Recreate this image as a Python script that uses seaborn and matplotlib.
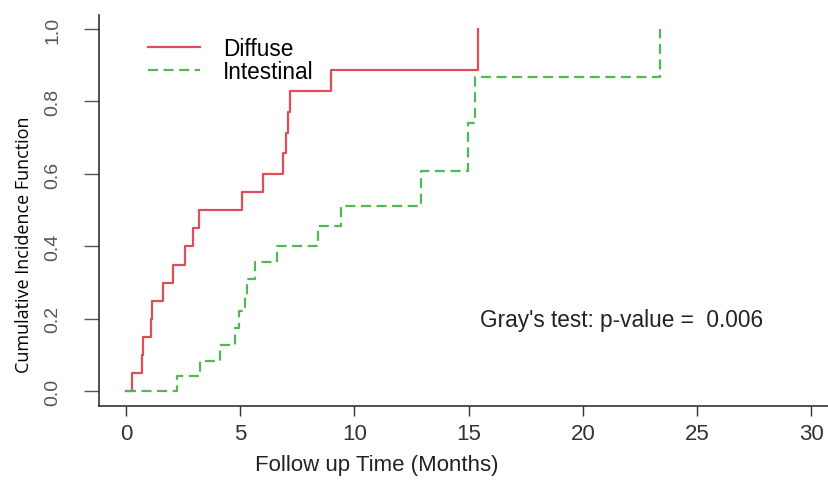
import matplotlib
matplotlib.use("Agg")
import matplotlib.pyplot as plt
import seaborn as sns
import pandas as pd
import numpy as np

# Step points (months, CIF)
diffuse_time = [0, 0.28, 0.69, 0.76, 1.08, 1.15, 1.6, 2.07, 2.58, 2.92, 3.19,
                5.1, 6.01, 6.88, 7.0, 7.08, 7.2, 8.97, 15.42]
diffuse_cif = [0, 0.05, 0.10, 0.15, 0.20, 0.25, 0.30, 0.35, 0.40, 0.45, 0.50,
               0.55, 0.60, 0.657, 0.714, 0.771, 0.829, 0.886, 1.0]

intestinal_time = [0, 2.22, 3.22, 4.11, 4.77, 4.96, 5.21, 5.31, 5.65, 6.59,
                   8.39, 9.4, 12.9, 14.98, 15.27, 23.37]
intestinal_cif = [0, 0.043, 0.085, 0.128, 0.175, 0.222, 0.264, 0.31, 0.358,
                  0.402, 0.457, 0.512, 0.609, 0.742, 0.868, 1.0]

groups = ['Diffuse', 'Intestinal']
x_ticks = [0, 5, 10, 15, 20, 25, 30]
y_ticks = [0.0, 0.2, 0.4, 0.6, 0.8, 1.0]
p_text = "Gray's test: p-value =  0.006"

# Long table for seaborn
df = pd.concat([
    pd.DataFrame({'time': diffuse_time, 'cif': diffuse_cif, 'group': groups[0]}),
    pd.DataFrame({'time': intestinal_time, 'cif': intestinal_cif, 'group': groups[1]}),
], ignore_index=True)

plt.rcParams['font.family'] = ['Liberation Sans', 'DejaVu Sans']

fig = plt.figure(figsize=(8.29, 4.81), dpi=100)
# R-style plot region (4% padding on both axes), right edge runs off the figure
ax = fig.add_axes([0.1189, 0.1542, 0.8929, 0.8135])

sns.lineplot(data=df, x='time', y='cif', hue='group', style='group',
             hue_order=groups, style_order=groups,
             palette={'Diffuse': '#DE4E58', 'Intestinal': '#52B852'},
             dashes={'Diffuse': '', 'Intestinal': (4.5, 2.5)},
             drawstyle='steps-post', estimator=None, sort=False,
             linewidth=1.6, ax=ax)

ax.set_xlim(-1.2, 31.2)
ax.set_ylim(-0.04, 1.04)
ax.set_xticks(x_ticks)
ax.set_xticklabels([str(v) for v in x_ticks])
ax.set_yticks(y_ticks)
ax.set_yticklabels([f'{v:.1f}' for v in y_ticks])

for side in ['top', 'right']:
    ax.spines[side].set_visible(False)
for side in ['left', 'bottom']:
    ax.spines[side].set_linewidth(1.1)
    ax.spines[side].set_color('#222222')

ax.tick_params(axis='x', length=7.5, width=1.0, color='#333333', pad=5,
               labelsize=16, labelcolor='#333333')
ax.tick_params(axis='y', length=11, width=1.0, color='#555555', pad=16,
               labelsize=14, labelcolor='#555555', labelrotation=90)
for lab in ax.get_yticklabels():
    lab.set_family(['Liberation Sans Narrow', 'Liberation Sans'])
    lab.set_va('center')

ax.set_xlabel('Follow up Time (Months)', fontsize=16, color='#222222')
ax.xaxis.set_label_coords(0.3754, -0.123)
ax.set_ylabel('Cumulative Incidence Function', fontsize=13, color='black',
              family=['Open Sans', 'DejaVu Sans'])
ax.yaxis.set_label_coords(-0.0886, 0.4135)

handles, labels = ax.get_legend_handles_labels()
keep = [(h, l) for h, l in zip(handles, labels) if l in groups]
ax.legend([h for h, _ in keep], [l for _, l in keep], loc='upper left',
          bbox_to_anchor=(0.0667, 0.943), frameon=False, fontsize=16.3,
          handlelength=2.3, handletextpad=1.0, labelspacing=0.0,
          borderpad=0, borderaxespad=0)

ax.text(15.5, 0.197, p_text, fontsize=16.3, color='#222222',
        ha='left', va='center')

fig.savefig('out.png', dpi=100)
